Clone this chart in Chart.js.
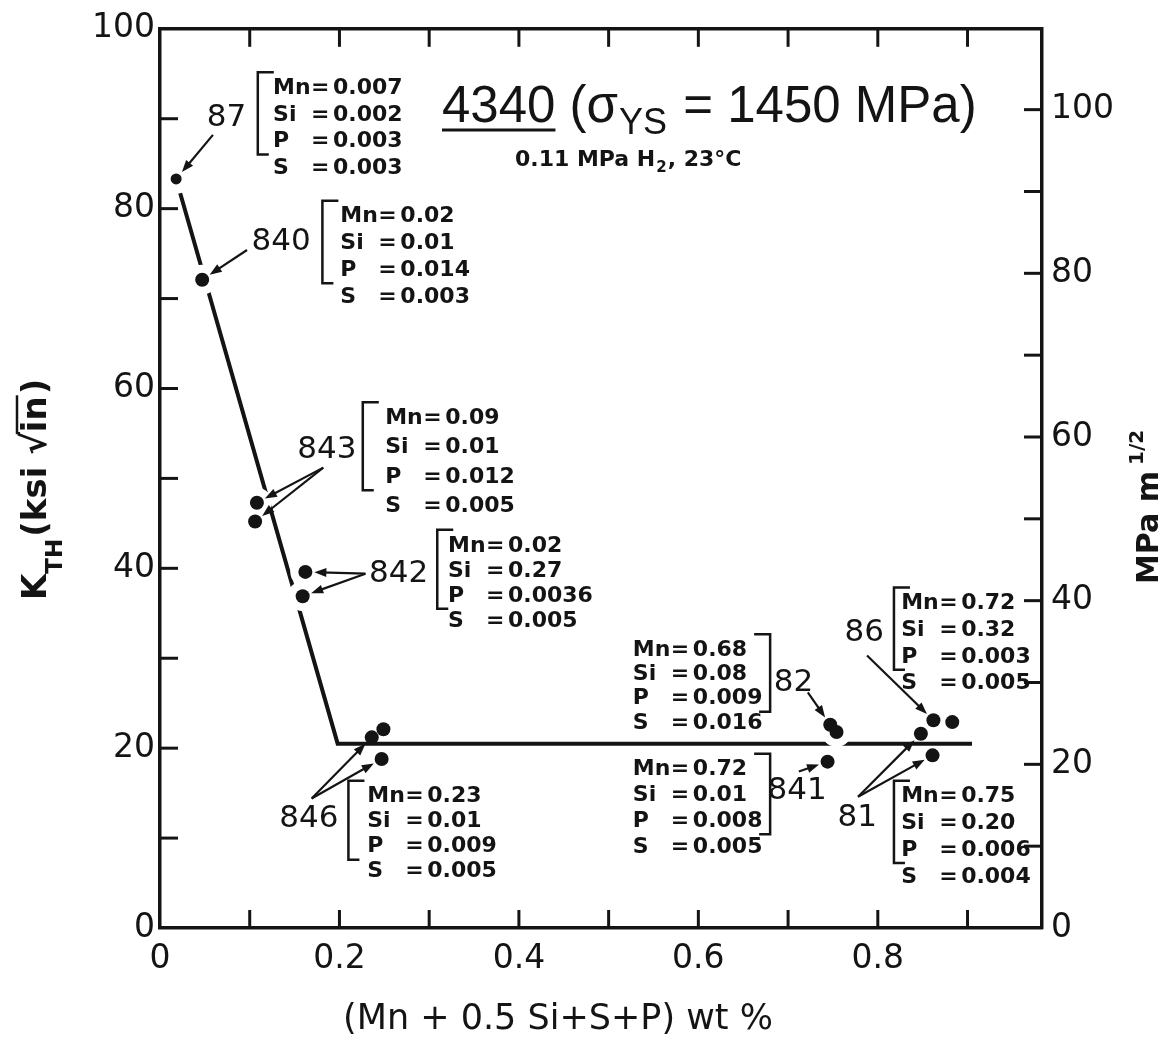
<!DOCTYPE html>
<html><head><meta charset="utf-8">
<script src="https://cdn.jsdelivr.net/npm/chart.js@4"></script>
<style>html,body{margin:0;padding:0;background:#fff}#wrap{width:1173px;height:1043px;position:relative}</style>
</head><body><div id="wrap"><canvas id="c" width="1173" height="1043"></canvas></div>
<script>
// ---------- DATA ----------
const steelIds = ['87','840','843','842','846','82','841','86','81'];
const mnWt = ['0.007','0.02','0.09','0.02','0.23','0.68','0.72','0.72','0.75'];
const siWt = ['0.002','0.01','0.01','0.27','0.01','0.08','0.01','0.32','0.20'];
const pWt  = ['0.003','0.014','0.012','0.0036','0.009','0.009','0.008','0.003','0.006'];
const sWt  = ['0.003','0.003','0.005','0.005','0.005','0.016','0.005','0.005','0.004'];

const dotSteel = ['87','840','843','843','842','842','846','846','846','82','82','841','86','86','81','81'];
const dotX = [0.018,0.047,0.108,0.106,0.162,0.159,0.249,0.236,0.247,0.747,0.754,0.744,0.883,0.862,0.848,0.861];
const dotK = [83.3,72.1,47.3,45.2,39.6,36.9,22.1,21.2,18.8,22.6,21.8,18.5,22.9,23.1,21.6,19.2];

const trendX = [0.018, 0.198, 0.905];
const trendK = [83.3, 20.5, 20.5];

const xTickVals = [0,0.1,0.2,0.3,0.4,0.5,0.6,0.7,0.8,0.9];
const xLabelVals = [0,0.2,0.4,0.6,0.8];
const xTickLabels = ['0','0.2','0.4','0.6','0.8'];
const kTickVals = [0,10,20,30,40,50,60,70,80,90,100];
const kLabelVals = [0,20,40,60,80,100];
const mpaTickVals = [0,10,20,30,40,50,60,70,80,90,100];
const mpaLabelVals = [0,20,40,60,80,100];
const KSI_TO_MPA = 1.0988;

// ---------- LAYOUT OF ANNOTATIONS (data coordinates) ----------
const NOTE = {
 '87':  {tx:0.126, ty:93.4, dy:26.7, br:0.109, side:'L', lx:0.074, ly:90.1, ax:0.059, ay:88.2, to:[0]},
 '840': {tx:0.201, ty:79.1, dy:26.7, br:0.181, side:'L', lx:0.135, ly:76.3, ax:0.097, ay:75.4, to:[0]},
 '843': {tx:0.251, ty:56.7, dy:29.5, br:0.226, side:'L', lx:0.186, ly:53.2, ax:0.182, ay:51.2, to:[0,1]},
 '842': {tx:0.321, ty:42.5, dy:25.0, br:0.309, side:'L', lx:0.266, ly:39.4, ax:0.229, ay:39.4, to:[0,1]},
 '846': {tx:0.231, ty:14.6, dy:25.0, br:0.210, side:'L', lx:0.166, ly:12.1, ax:0.169, ay:14.4, to:[1,2]},
 '82':  {tx:0.527, ty:30.9, dy:24.3, br:0.680, side:'R', lx:0.706, ly:27.3, ax:0.722, ay:26.2, to:[0]},
 '841': {tx:0.527, ty:17.6, dy:25.7, br:0.680, side:'R', lx:0.710, ly:15.2, ax:0.712, ay:17.4, to:[0]},
 '86':  {tx:0.826, ty:36.1, dy:26.7, br:0.818, side:'L', lx:0.785, ly:32.8, ax:0.788, ay:30.3, to:[1]},
 '81':  {tx:0.826, ty:14.6, dy:26.7, br:0.818, side:'L', lx:0.777, ly:12.2, ax:0.778, ay:14.6, to:[0,1]}
};
const haloSteels = ['87','840','843','842','82'];

const INK = '#141414';
const FF = '"DejaVu Sans", sans-serif';

const dots = dotX.map((x,i)=>({x, y: dotK[i]}));
const haloPts = dots.filter((p,i)=>haloSteels.includes(dotSteel[i]));
const trend = trendX.map((x,i)=>({x, y: trendK[i]}));

function line(ctx,x1,y1,x2,y2){ctx.beginPath();ctx.moveTo(x1,y1);ctx.lineTo(x2,y2);ctx.stroke();}

const deco = {
  id:'deco',
  beforeDraw(chart){
    const c=chart.ctx; c.save(); c.fillStyle='#fff'; c.fillRect(0,0,chart.width,chart.height); c.restore();
  },
  afterDatasetsDraw(chart){
    const {ctx, chartArea:a, scales} = chart;
    const X = scales.x, Y = scales.y, Y2 = scales.y2;
    ctx.save();
    ctx.strokeStyle = INK; ctx.fillStyle = INK;
    // inward ticks
    ctx.lineWidth = 3;
    const TL = 18;
    xTickVals.forEach(v=>{ if(v<=0) return; const px=X.getPixelForValue(v);
      line(ctx,px,a.bottom,px,a.bottom-TL); line(ctx,px,a.top,px,a.top+TL); });
    kTickVals.forEach(v=>{ if(v<=0||v>=100) return; const py=Y.getPixelForValue(v); line(ctx,a.left,py,a.left+TL,py); });
    mpaTickVals.forEach(v=>{ if(v<=0) return; const py=Y2.getPixelForValue(v); line(ctx,a.right,py,a.right-TL,py); });

    // annotations
    steelIds.forEach((id,si)=>{
      const n = NOTE[id];
      const tx = X.getPixelForValue(n.tx), ty = Y.getPixelForValue(n.ty);
      // composition text
      ctx.font = 'bold 22px '+FF; ctx.textBaseline='middle'; ctx.textAlign='left';
      const rows = [['Mn',mnWt[si]],['Si',siWt[si]],['P',pWt[si]],['S',sWt[si]]];
      rows.forEach((r,k)=>{
        const yy = ty + k*n.dy;
        ctx.fillText(r[0], tx, yy);
        ctx.fillText('=', tx+38, yy);
        ctx.fillText(r[1], tx+60, yy);
      });
      // bracket
      const bx = X.getPixelForValue(n.br);
      const top = ty-16, bot = ty+2*n.dy+13;
      const d = n.side==='L' ? 1 : -1;
      ctx.lineWidth = 2.5;
      ctx.beginPath(); ctx.moveTo(bx+d*16, top); ctx.lineTo(bx, top); ctx.lineTo(bx, bot); ctx.lineTo(bx+d*11, bot); ctx.stroke();
      // steel label
      ctx.font = '31px '+FF; ctx.textAlign='center';
      ctx.fillText(id, X.getPixelForValue(n.lx), Y.getPixelForValue(n.ly));
      // arrows
      const sx = X.getPixelForValue(n.ax), sy = Y.getPixelForValue(n.ay);
      const idxs = dotSteel.map((s,i)=>s===id?i:-1).filter(i=>i>=0);
      n.to.forEach(j=>{
        const di = idxs[j];
        const ex0 = X.getPixelForValue(dotX[di]), ey0 = Y.getPixelForValue(dotK[di]);
        const dx = ex0-sx, dyy = ey0-sy, L = Math.hypot(dx,dyy);
        const ux = dx/L, uy = dyy/L;
        const ex = ex0 - ux*9, ey = ey0 - uy*9;
        ctx.lineWidth = 2.2;
        line(ctx, sx, sy, ex-ux*6, ey-uy*6);
        ctx.beginPath();
        ctx.moveTo(ex, ey);
        ctx.lineTo(ex-ux*12 - uy*4.5, ey-uy*12 + ux*4.5);
        ctx.lineTo(ex-ux*12 + uy*4.5, ey-uy*12 - ux*4.5);
        ctx.closePath(); ctx.fill();
      });
    });
    ctx.restore();
  },
  afterDraw(chart){
    const ctx = chart.ctx;
    ctx.save();
    ctx.fillStyle = INK; ctx.strokeStyle = INK;
    // main title
    ctx.textBaseline='alphabetic'; ctx.textAlign='left';
    const big = '51px "Liberation Sans", Arial, sans-serif';
    const sub = '36px "Liberation Sans", Arial, sans-serif';
    ctx.font = big;
    let x0 = 442;
    ctx.fillText('4340', x0, 122);
    const w4340 = ctx.measureText('4340').width;
    ctx.lineWidth = 3; line(ctx, x0, 130, x0+w4340, 130);
    let xx = x0 + w4340;
    ctx.fillText(' (\u03C3', xx, 122); xx += ctx.measureText(' (\u03C3').width;
    ctx.font = sub; ctx.fillText('YS', xx+1, 134); xx += ctx.measureText('YS').width + 3;
    ctx.font = big; ctx.fillText(' = 1450 MPa)', xx, 122);
    // subtitle
    ctx.font = 'bold 22px '+FF;
    let sx = 515;
    ctx.fillText('0.11 MPa H', sx, 166); sx += ctx.measureText('0.11 MPa H').width;
    ctx.font = 'bold 15px '+FF; ctx.fillText('2', sx+1, 172); sx += ctx.measureText('2').width + 2;
    ctx.font = 'bold 22px '+FF; ctx.fillText(', 23\u00B0C', sx, 166);

    // x title
    ctx.font = '35px '+FF; ctx.textAlign='center'; ctx.textBaseline='middle';
    ctx.fillText('(Mn + 0.5 Si+S+P) wt %', 558, 1020);

    // left title (rotated)
    ctx.save();
    ctx.translate(46, 600); ctx.rotate(-Math.PI/2);
    ctx.textAlign='left'; ctx.textBaseline='alphabetic';
    let p = 0;
    ctx.font = 'bold 34px '+FF; ctx.fillText('K', p, 0); p += ctx.measureText('K').width;
    ctx.font = 'bold 23px '+FF; ctx.fillText('TH', p, 16); p += ctx.measureText('TH').width + 2;
    ctx.font = 'bold 34px '+FF; ctx.fillText('(ksi ', p, 0); p += ctx.measureText('(ksi ').width;
    ctx.fillText('\u221A', p, 0); const rootEnd = p + ctx.measureText('\u221A').width; p = rootEnd;
    ctx.fillText('in', p, 0); const inW = ctx.measureText('in').width;
    ctx.lineWidth = 2.5; line(ctx, rootEnd-2, -29, p+inW+1, -29);
    p += inW + 2;
    ctx.fillText(')', p, 0);
    ctx.restore();

    // right title (rotated)
    ctx.save();
    ctx.translate(1158, 584); ctx.rotate(-Math.PI/2);
    ctx.textAlign='left'; ctx.textBaseline='alphabetic';
    ctx.font = 'bold 30px '+FF; ctx.fillText('MPa m', 0, 0);
    const wm = ctx.measureText('MPa m').width;
    ctx.font = 'bold 20px '+FF; ctx.fillText('1/2', wm+6, -15);
    ctx.restore();
    ctx.restore();
  }
};

const gridOff = {display:true, drawOnChartArea:false, drawTicks:false, color:'rgba(0,0,0,0)'};
const border = {display:true, color:INK, width:3.5, z:1};
const tickFont = {family:'"DejaVu Sans", sans-serif', size:33};

new Chart(document.getElementById('c'), {
  type:'scatter',
  data:{datasets:[
    {label:'dots', data:dots, backgroundColor:INK, borderWidth:0,
     pointRadius:ctx=>dotSteel[ctx.dataIndex]==='87'?5.5:7, order:0},
    {label:'halo', data:haloPts, backgroundColor:'#fff', borderWidth:0, pointRadius:15, order:1},
    {label:'trend', data:trend, showLine:true, borderColor:INK, borderWidth:4, pointRadius:0, fill:false, order:2}
  ]},
  options:{
    responsive:false, animation:false,
    layout:{padding:{top:20,left:0,right:0,bottom:0}},
    plugins:{legend:{display:false}, tooltip:{enabled:false}},
    scales:{
      x:{type:'linear', position:'bottom', min:0, max:0.983,
         afterBuildTicks:s=>{s.ticks = xTickVals.map(v=>({value:v}));},
         afterFit:s=>{s.height = 115;},
         grid:gridOff, border:border,
         ticks:{autoSkip:false, maxRotation:0, padding:12, color:INK, font:tickFont,
           callback:v=>{const i=xLabelVals.findIndex(t=>Math.abs(t-v)<1e-6); return i>=0?xTickLabels[i]:'';}}},
      x2:{type:'linear', position:'top', min:0, max:0.983,
         afterFit:s=>{s.height = 0;},
         grid:gridOff, border:border, ticks:{display:false}},
      y:{type:'linear', position:'left', min:0, max:100,
         afterBuildTicks:s=>{s.ticks = kTickVals.map(v=>({value:v}));},
         afterFit:s=>{s.width = 160;},
         grid:gridOff, border:border,
         ticks:{autoSkip:false, padding:5, color:INK, font:tickFont,
           callback:v=>kLabelVals.includes(v)?String(v):''}},
      y2:{type:'linear', position:'right', min:0, max:100*KSI_TO_MPA,
         afterBuildTicks:s=>{s.ticks = mpaTickVals.map(v=>({value:v}));},
         afterFit:s=>{s.width = 131;},
         grid:gridOff, border:border,
         ticks:{autoSkip:false, padding:9, color:INK, font:tickFont,
           callback:v=>mpaLabelVals.includes(v)?String(v):''}}
    }
  },
  plugins:[deco]
});
</script></body></html>
